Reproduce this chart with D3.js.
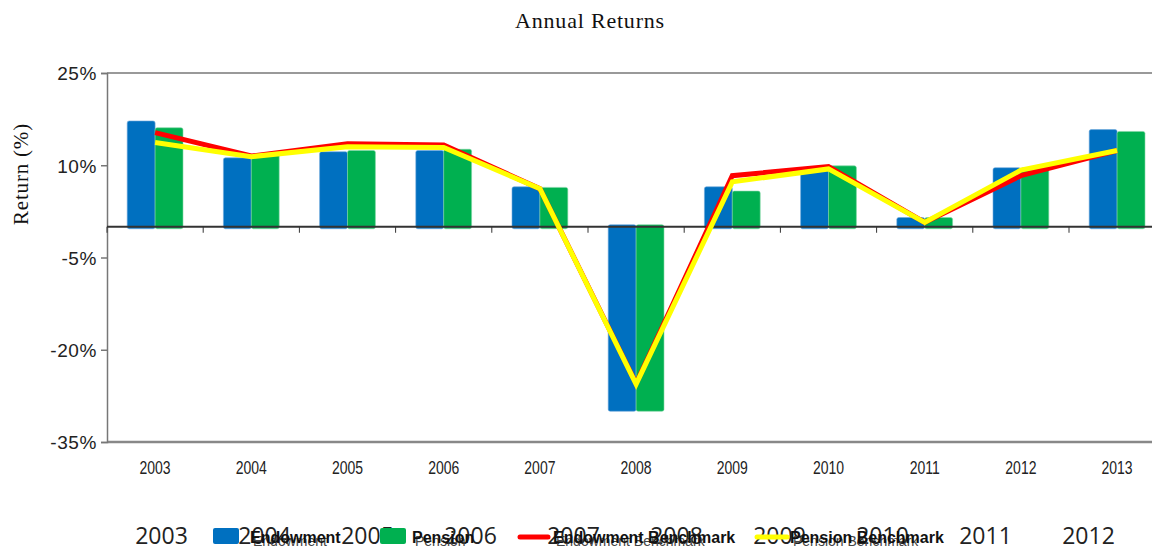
<!DOCTYPE html>
<html>
<head>
<meta charset="utf-8">
<script src="https://cdn.jsdelivr.net/npm/d3@7"></script>
<style>
  html, body { margin: 0; padding: 0; background: #fff; }
  svg { display: block; }
</style>
</head>
<body>
<svg id="chart" width="1152" height="547"></svg>
<script>
// ---- data ----
const years = ["2003","2004","2005","2006","2007","2008","2009","2010","2011","2012","2013"];
const endowment = [17.2, 11.2, 12.2, 12.4, 6.5, -30.0, 6.5, 9.6, 1.5, 9.6, 15.8];
const pension = [16.1, 11.8, 12.4, 12.6, 6.4, -30.0, 5.8, 9.9, 1.5, 9.6, 15.5];
const endowmentBenchmark = [15.3, 11.5, 13.5, 13.3, 6.2, -25.5, 8.3, 9.8, 0.7, 8.3, 12.4];
const pensionBenchmark = [13.7, 11.4, 13.0, 12.9, 6.2, -25.6, 7.3, 9.4, 0.7, 9.2, 12.4];
const yTicks = [25, 10, -5, -20, -35];
const strayYearLabels = ["2003","2004","2005","2006","2007","2008","2009","2010","2011","2012"];
const seriesNames = ["Endowment", "Pension", "Endowment Benchmark", "Pension Benchmark"];
const colors = { endowment: "#0070C0", pension: "#00B050", eb: "#FF0000", pb: "#FFFF00" };

const svg = d3.select("#chart");

const x = d3.scaleBand().domain(years).range([107, 107 + 11 * 96.2]).padding(0);
const y = d3.scaleLinear().domain([-35, 25]).range([442, 73]);
const bw = x.bandwidth() * 0.29;

// Title
svg.append("text").attr("x", 590).attr("y", 28).attr("text-anchor", "middle")
  .attr("font-family", "Liberation Serif, serif").attr("font-size", 22).attr("letter-spacing", 0.8)
  .attr("fill", "#111").text("Annual Returns");

// Y axis title
svg.append("text").attr("transform", "translate(28,174) rotate(-90)").attr("text-anchor", "middle")
  .attr("font-family", "Liberation Serif, serif").attr("font-size", 21).attr("letter-spacing", 0.8)
  .attr("fill", "#111").text("Return (%)");

// frame lines top/bottom
svg.append("line").attr("x1", 107).attr("x2", 1152).attr("y1", y(25)).attr("y2", y(25))
  .attr("stroke", "#777").attr("stroke-width", 1.5);
svg.append("line").attr("x1", 107).attr("x2", 1152).attr("y1", y(-35)).attr("y2", y(-35))
  .attr("stroke", "#888").attr("stroke-width", 2.5);

// Y axis
const yAxis = d3.axisLeft(y).tickValues(yTicks).tickFormat(d => d + "%").tickSize(6).tickPadding(4);
const gy = svg.append("g").attr("transform", "translate(107,0)").call(yAxis);
gy.select(".domain").attr("stroke", "#777").attr("stroke-width", 1.5);
gy.selectAll(".tick line").attr("stroke", "#777").attr("stroke-width", 1.5);
gy.selectAll(".tick text").attr("font-family", "Liberation Sans, Arial, sans-serif")
  .attr("font-size", 19).attr("letter-spacing", 0.6).attr("fill", "#222").attr("dy", "0.36em");

// Bars
function barY(d) { return d >= 0 ? y(d) : y(0) - 2; }
function barH(d) { return Math.abs(y(d) - y(0)) + 2; }
const bars = svg.append("g");
bars.selectAll("rect.endow").data(endowment).join("rect")
  .attr("x", (d, i) => x(years[i]) + x.bandwidth() / 2 - bw)
  .attr("y", barY).attr("width", bw).attr("height", barH)
  .attr("rx", 2)
  .attr("fill", colors.endowment).attr("stroke", "#6fa8dc").attr("stroke-opacity", 0.6).attr("stroke-width", 1);
bars.selectAll("rect.pen").data(pension).join("rect")
  .attr("x", (d, i) => x(years[i]) + x.bandwidth() / 2)
  .attr("y", barY).attr("width", bw).attr("height", barH)
  .attr("rx", 2)
  .attr("fill", colors.pension).attr("stroke", "#7fd6a3").attr("stroke-opacity", 0.6).attr("stroke-width", 1);

// zero baseline with ticks
svg.append("line").attr("x1", 107).attr("x2", 1152).attr("y1", y(0)).attr("y2", y(0))
  .attr("stroke", "#333").attr("stroke-width", 2);
const boundaries = years.map(d => x(d)).concat([x(years[years.length - 1]) + x.bandwidth()]);
svg.append("g").selectAll("line").data(boundaries).join("line")
  .attr("x1", d => d).attr("x2", d => d).attr("y1", y(0)).attr("y2", y(0) + 6)
  .attr("stroke", "#333").attr("stroke-width", 1);

// Lines
const line = d3.line().x((d, i) => x(years[i]) + x.bandwidth() / 2).y(d => y(d));
svg.append("path").datum(endowmentBenchmark).attr("d", line)
  .attr("fill", "none").attr("stroke", colors.eb).attr("stroke-width", 5).attr("stroke-linejoin", "miter");
svg.append("path").datum(pensionBenchmark).attr("d", line)
  .attr("fill", "none").attr("stroke", colors.pb).attr("stroke-width", 5).attr("stroke-linejoin", "miter");

// X axis labels
svg.append("g").selectAll("text").data(years).join("text")
  .attr("transform", d => `translate(${x(d) + x.bandwidth() / 2},474) scale(1,1.3)`)
  .attr("text-anchor", "middle")
  .attr("font-family", "Liberation Sans Narrow, Arial Narrow, sans-serif")
  .attr("font-size", 14).attr("fill", "#222").text(d => d);

// Stray year labels at bottom
const stray = d3.scaleBand().domain(strayYearLabels).range([110, 110 + 10 * 103]);
svg.append("g").selectAll("text").data(strayYearLabels).join("text")
  .attr("x", d => stray(d) + stray.bandwidth() / 2).attr("y", 544).attr("text-anchor", "middle")
  .attr("font-family", "Open Sans, sans-serif").attr("font-size", 23).attr("fill", "#222").text(d => d);

// Legend
const lg = svg.append("g");
lg.append("rect").attr("x", 213).attr("y", 528).attr("width", 26).attr("height", 16).attr("rx", 2).attr("fill", colors.endowment);
lg.append("rect").attr("x", 380).attr("y", 528).attr("width", 26).attr("height", 16).attr("rx", 2).attr("fill", colors.pension);
lg.append("line").attr("x1", 520).attr("x2", 548).attr("y1", 537).attr("y2", 537).attr("stroke", colors.eb).attr("stroke-width", 5).attr("stroke-linecap", "round");
lg.append("line").attr("x1", 757).attr("x2", 787).attr("y1", 537).attr("y2", 537).attr("stroke", colors.pb).attr("stroke-width", 5).attr("stroke-linecap", "round");
const legendX = [250, 412, 553, 790];
lg.selectAll("text.reg").data(seriesNames).join("text")
  .attr("class", "reg")
  .attr("x", (d, i) => legendX[i] + 3).attr("y", 546)
  .attr("font-family", "Liberation Sans, Arial, sans-serif").attr("font-size", 14).attr("fill", "#444").text(d => d);
lg.selectAll("text.bold").data(seriesNames).join("text")
  .attr("class", "bold")
  .attr("x", (d, i) => legendX[i]).attr("y", 543)
  .attr("font-family", "Liberation Sans, Arial, sans-serif").attr("font-weight", "bold").attr("font-size", 16).attr("fill", "#111").text(d => d);
</script>
</body>
</html>
